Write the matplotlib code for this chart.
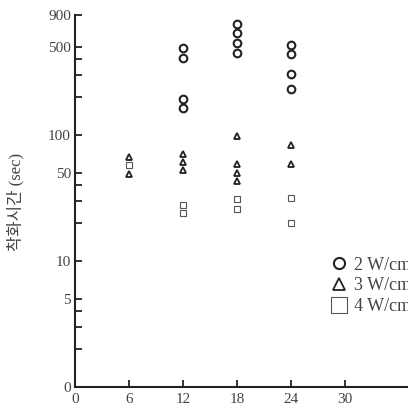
import numpy as np
import matplotlib.pyplot as plt
from matplotlib.ticker import FixedLocator, NullFormatter

plt.rcParams['font.family'] = ['Liberation Serif', 'Noto Sans CJK KR']

# 2 W/cm2 (circles)
x2 = [12, 12, 12, 12, 18, 18, 18, 18, 24, 24, 24, 24]
y2 = [490, 408, 193, 164, 760, 645, 536, 447, 518, 440, 305, 232]
# 3 W/cm2 (triangles)
x3 = [6, 6, 12, 12, 12, 18, 18, 18, 18, 24, 24]
y3 = [67, 49, 71, 61, 53, 99, 59, 50, 43, 83, 59]
# 4 W/cm2 (squares)
x4 = [6, 12, 12, 18, 18, 24, 24]
y4 = [58, 28, 24, 31, 26, 32, 20]

labels = ['2 W/cm²', '3 W/cm²', '4 W/cm²']
xticks = [0, 6, 12, 18, 24, 30]
yticks = [1, 5, 10, 50, 100, 500, 900]
yticklabels = ['0', '5', '10', '50', '100', '500', '900']
yminor = [2, 3, 4, 20, 30, 40, 200, 300, 400]

fig = plt.figure(figsize=(4.08, 4.08), dpi=100)
ax = fig.add_axes([0.184, 0.0515, 0.816, 0.9115])

ax.plot(x2, y2, 'o', ms=5.5, mfc='none', mec='#222222', mew=1.5, label=labels[0])
ax.plot(x3, y3, '^', ms=3.8, mfc='none', mec='#222222', mew=1.3, label=labels[1])
ax.plot(x4, y4, 's', ms=5, mfc='none', mec='#555555', mew=0.8, label=labels[2])

ax.set_yscale('log')
ax.set_ylim(1, 900)
ax.set_xlim(0, 37)
ax.yaxis.set_major_locator(FixedLocator(yticks))
ax.set_yticklabels(yticklabels)
ax.yaxis.set_minor_locator(FixedLocator(yminor))
ax.yaxis.set_minor_formatter(NullFormatter())
ax.set_xticks(xticks)

for s in ['top', 'right']:
    ax.spines[s].set_visible(False)
for s in ['left', 'bottom']:
    ax.spines[s].set_linewidth(1.5)
    ax.spines[s].set_color('#222222')

ax.tick_params(axis='both', which='both', direction='in', length=5, width=1.3,
               colors='#222222', labelcolor='#444444', labelsize=11)
ax.tick_params(axis='x', pad=4)
ax.tick_params(axis='y', pad=3)

fig.text(0.037, 0.505, '착화시간 (sec)', rotation=90, ha='center', va='center',
         fontsize=12, color='#444444')

leg = ax.legend(loc='upper left', bbox_to_anchor=(0.745, 0.37), frameon=False,
                fontsize=13, handletextpad=0.3, labelspacing=0.2,
                handlelength=1.0, borderaxespad=0)
for h, ms in zip(leg.legend_handles, [8, 8, 11]):
    h.set_markersize(ms)
for t in leg.get_texts():
    t.set_color('#444444')

fig.savefig('out.png', dpi=100)
